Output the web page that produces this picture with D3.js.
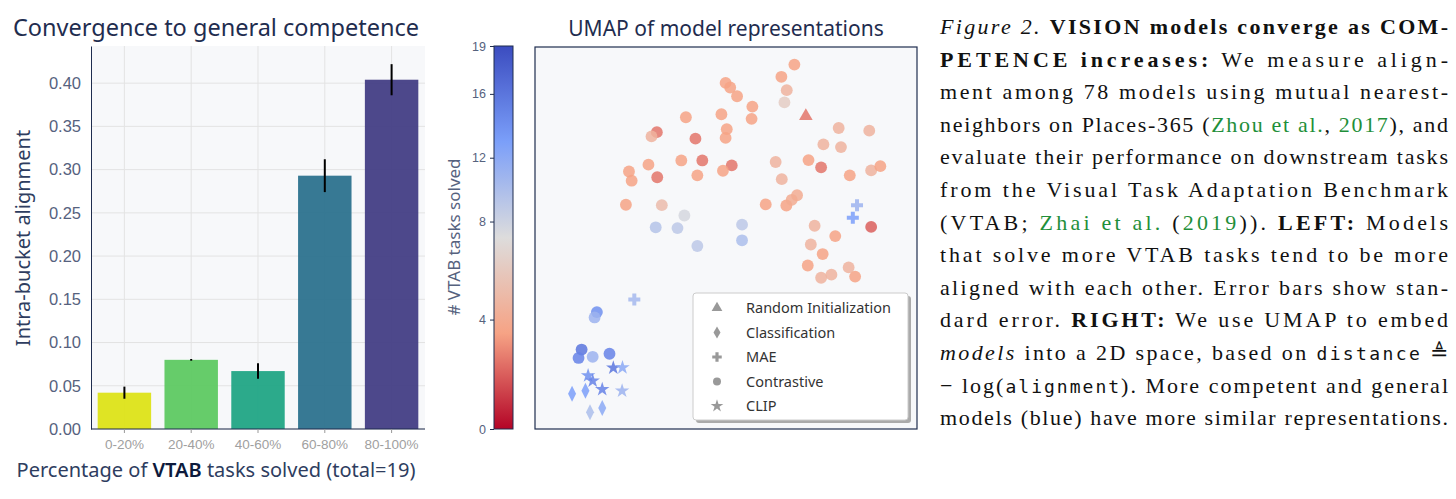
<!DOCTYPE html>
<meta charset="utf-8">
<script src="https://d3js.org/d3.v7.min.js"></script>
<style>body{margin:0;background:#fff}</style>
<div id="chart"></div>
<script>
// left panel data
var buckets = ["0-20%", "20-40%", "40-60%", "60-80%", "80-100%"];
var alignment = [0.042, 0.080, 0.067, 0.293, 0.404];
var stderr = [0.007, 0.001, 0.009, 0.019, 0.018];
var barColors = ["#dde318", "#5ec962", "#21a585", "#2c728e", "#433e85"];
var yTicks = [0, 0.05, 0.10, 0.15, 0.20, 0.25, 0.30, 0.35, 0.40];

// right panel data: UMAP coords, marker type, # tasks solved
var umapX = [6.79,6.45,6.59,6.53,4.99,5.11,5.29,5.69,5.67,4.88,5.02,4.99,3.95,3.19,3.05,4.20,3.83,4.38,5.15,4.92,4.25,2.97,2.46,2.53,3.20,2.38,3.32,3.16,3.73,4.25,3.91,5.42,5.42,6.04,6.58,6.72,6.86,6.30,6.46,7.16,7.49,7.55,7.95,8.01,8.75,8.24,8.80,9.04,7.32,7.86,8.80,7.22,7.53,7.14,7.49,7.76,8.21,8.38,1.62,1.56,1.22,1.14,1.51,1.95,
  7.09, 8.43,8.32,2.60, 2.05,2.29,1.39,1.51,1.76,2.28, 0.97,1.32,1.44,1.76];
var umapY = [9.54,9.22,8.87,8.55,9.06,8.94,8.71,8.44,8.12,8.24,7.85,7.62,8.16,7.77,7.66,7.60,7.03,7.03,6.90,6.76,6.64,6.92,6.74,6.50,6.59,5.87,5.86,5.28,5.26,4.79,5.59,5.35,4.94,5.88,5.85,6.00,6.12,6.99,6.54,7.04,6.85,7.45,7.88,7.38,7.81,6.64,6.77,6.88,5.32,5.05,5.29,4.83,4.58,4.28,3.96,4.04,4.23,3.99,3.06,2.92,2.08,1.86,1.89,1.97,
  8.19, 5.86,5.53,3.39, 1.60,1.61,1.40,1.26,1.04,1.00, 0.92,1.00,0.44,0.55];
var markerType = Array(64).fill("Contrastive").concat(["Random Initialization","MAE","MAE","MAE","CLIP","CLIP","CLIP","CLIP","CLIP","CLIP","Classification","Classification","Classification","Classification"]);
var tasksSolved = [3.5,3.5,4.5,6,3.5,3.5,3.5,3.5,3.5,3.5,3.5,3.5,3.5,2.5,4.5,2.5,3.5,2.5,2.5,3.5,3.5,3.5,3.5,3.5,2.5,3.5,5,9.5,9,9,7.5,9,10,3.5,3.5,4,4,4.5,4.5,3.5,2.5,4.5,4.5,4.5,4.5,3.5,4.5,3.5,4.5,3.5,2,4.5,3.5,3.5,4.5,4.5,4.5,3.5,14,11,16,15,11,15,
  2.5, 11,13,10.5, 16,12,14,15,15,11, 13,13,10,12];
var legendTypes = ["Random Initialization","Classification","MAE","Contrastive","CLIP"];
var cbTicks = [0, 4, 8, 12, 16, 19];

var W = 1456, H = 499;
var svg = d3.select("#chart").append("svg").attr("width", W).attr("height", H)
  .style("font-family", "'Noto Sans', Lato, sans-serif");
var navy = "#1f2d4f", tickGrey = "#56627e";

// ---------- LEFT: bar chart ----------
var L = {left: 91, right: 425, top: 46, bottom: 429};
var x = d3.scaleBand().domain(buckets).range([L.left, L.right]).paddingInner(0.2).paddingOuter(0.1);
var y = d3.scaleLinear().domain([0, 0.443]).range([L.bottom, L.top]);

svg.append("rect").attr("x", L.left).attr("y", L.top).attr("width", L.right - L.left)
  .attr("height", L.bottom - L.top).attr("fill", "#f7f8fa");
svg.append("g").selectAll("line").data(yTicks).enter().append("line")
  .attr("x1", L.left).attr("x2", L.right).attr("y1", d => y(d)).attr("y2", d => y(d))
  .attr("stroke", "#e3e3e3");
svg.append("g").selectAll("line").data(buckets).enter().append("line")
  .attr("x1", d => x(d) + x.bandwidth() / 2).attr("x2", d => x(d) + x.bandwidth() / 2)
  .attr("y1", L.top).attr("y2", L.bottom).attr("stroke", "#e3e3e3");

svg.append("g").selectAll("rect").data(buckets).enter().append("rect")
  .attr("x", d => x(d)).attr("width", x.bandwidth())
  .attr("y", (d, i) => y(alignment[i])).attr("height", (d, i) => y(0) - y(alignment[i]))
  .attr("fill", (d, i) => barColors[i]).attr("fill-opacity", 0.95);
svg.append("g").selectAll("line").data(buckets).enter().append("line")
  .attr("x1", d => x(d) + x.bandwidth() / 2).attr("x2", d => x(d) + x.bandwidth() / 2)
  .attr("y1", (d, i) => y(alignment[i] - stderr[i])).attr("y2", (d, i) => y(alignment[i] + stderr[i]))
  .attr("stroke", "#000").attr("stroke-width", 2);

var yAx = svg.append("g").attr("transform", "translate(" + L.left + ",0)")
  .call(d3.axisLeft(y).tickValues(yTicks).tickFormat(d3.format(".2f")).tickSize(0).tickPadding(10));
yAx.select(".domain").attr("stroke", navy);
yAx.selectAll("text").attr("fill", tickGrey).style("font-size", "16.5px");
var xAx = svg.append("g").attr("transform", "translate(0," + L.bottom + ")")
  .call(d3.axisBottom(x).tickSize(4).tickPadding(6));
xAx.select(".domain").attr("stroke", navy).attr("d", "M" + L.left + ",0H" + L.right);
xAx.selectAll("line").attr("stroke", "#999");
xAx.selectAll("text").attr("fill", "#a0a0a0").style("font-size", "13.5px");

svg.append("text").attr("x", 216).attr("y", 36).attr("text-anchor", "middle")
  .attr("fill", navy).style("font-size", "23.5px").text("Convergence to general competence");
svg.append("text").attr("transform", "translate(30," + 238 + ") rotate(-90)").attr("text-anchor", "middle")
  .attr("fill", "#2e3d60").style("font-size", "20px").text("Intra-bucket alignment");
var xl = svg.append("text").attr("x", 216).attr("y", 477).attr("text-anchor", "middle")
  .attr("fill", "#2e3d60").style("font-size", "20px");
xl.append("tspan").text("Percentage of ");
xl.append("tspan").attr("fill", "#0d1a3c").attr("font-weight", "600").text("VTAB");
xl.append("tspan").text(" tasks solved (total=19)");

// ---------- RIGHT: colorbar + UMAP ----------
var cbY = d3.scaleLinear().domain([0, 7, 19]).range([429, 237.5, 46]);
var coolwarm = d3.scaleLinear().domain([0, 0.25, 0.5, 0.75, 1])
  .range(["#b40426", "#f6a385", "#dddcdc", "#7b9ff9", "#3b4cc0"]).interpolate(d3.interpolateRgb);
var tNorm = d3.scaleLinear().domain([0, 7, 19]).range([0, 0.5, 1]).clamp(true);
var color = v => coolwarm(tNorm(v));

var defs = svg.append("defs");
var grad = defs.append("linearGradient").attr("id", "cb").attr("x1", 0).attr("y1", 1).attr("x2", 0).attr("y2", 0);
d3.range(0, 1.01, 0.05).forEach(t => grad.append("stop").attr("offset", t).attr("stop-color", coolwarm(t)));
svg.append("rect").attr("x", 494).attr("y", 46).attr("width", 19).attr("height", 383)
  .attr("fill", "url(#cb)").attr("stroke", navy).attr("stroke-width", 1);
var cbAx = svg.append("g").attr("transform", "translate(494,0)")
  .call(d3.axisLeft(cbY).tickValues(cbTicks).tickSize(4).tickPadding(4));
cbAx.select(".domain").remove();
cbAx.selectAll("line").attr("stroke", navy);
cbAx.selectAll("text").attr("fill", tickGrey).style("font-size", "12.5px");
svg.append("text").attr("transform", "translate(460,237) rotate(-90)").attr("text-anchor", "middle")
  .attr("fill", tickGrey).style("font-size", "17px").text("# VTAB tasks solved");

var P = {left: 535, right: 917, top: 47, bottom: 429};
var ux = d3.scaleLinear().domain([0, 10]).range([P.left, P.right]);
var uy = d3.scaleLinear().domain([0, 10]).range([P.bottom, P.top]);
svg.append("rect").attr("x", P.left).attr("y", P.top).attr("width", P.right - P.left)
  .attr("height", P.bottom - P.top).attr("fill", "#f7f8fa").attr("stroke", navy).attr("stroke-width", 1.2);
svg.append("text").attr("x", 726).attr("y", 36).attr("text-anchor", "middle")
  .attr("fill", navy).style("font-size", "21px").text("UMAP of model representations");

var symbolOf = {"Random Initialization": d3.symbolTriangle, "Classification": "diamond",
  "MAE": d3.symbolCross, "Contrastive": d3.symbolCircle, "CLIP": d3.symbolStar};
var sizeOf = {"Random Initialization": 80, "Classification": 0, "MAE": 80, "Contrastive": 110, "CLIP": 65};
function markerPath(t, s) {
  if (t === "Classification") return "M0,-8L4,0L0,8L-4,0Z";
  return d3.symbol().type(symbolOf[t]).size(s || sizeOf[t])();
}
svg.append("g").selectAll("path").data(umapX).enter().append("path")
  .attr("transform", (d, i) => "translate(" + ux(umapX[i]) + "," + uy(umapY[i]) + ")")
  .attr("d", (d, i) => markerPath(markerType[i]))
  .attr("fill", (d, i) => color(tasksSolved[i])).attr("fill-opacity", 0.85);

// legend
var lg = svg.append("g").attr("transform", "translate(693,293)");
lg.append("rect").attr("x", 3).attr("y", 3).attr("width", 215).attr("height", 127).attr("rx", 3).attr("fill", "#aaa");
lg.append("rect").attr("width", 215).attr("height", 127).attr("rx", 3).attr("fill", "#fff").attr("stroke", "#ccc");
legendTypes.forEach(function(t, i) {
  var yy = 15 + i * 24.5;
  lg.append("path").attr("transform", "translate(24," + yy + ")")
    .attr("d", t === "Classification" ? "M0,-6L3.5,0L0,6L-3.5,0Z" : markerPath(t, 50)).attr("fill", "#999");
  lg.append("text").attr("x", 53).attr("y", yy + 5).attr("fill", "#333").style("font-size", "14.5px").text(t);
});

// ---------- caption ----------
var green = "#1f8f3a";
var caption = [
  [["Figure 2. ", "i"], ["VISION models converge as COM-", "b"]],
  [["PETENCE increases:", "b"], ["  We measure align-", ""]],
  [["ment among 78 models using mutual nearest-", ""]],
  [["neighbors on Places-365 (", ""], ["Zhou et al.", "g"], [", ", ""], ["2017", "g"], ["), and", ""]],
  [["evaluate their performance on downstream tasks", ""]],
  [["from the Visual Task Adaptation Benchmark", ""]],
  [["(VTAB; ", ""], ["Zhai et al.", "g"], [" (", ""], ["2019", "g"], [")).   ", ""], ["LEFT:", "b"], [" Models", ""]],
  [["that solve more VTAB tasks tend to be more", ""]],
  [["aligned with each other. Error bars show stan-", ""]],
  [["dard error. ", ""], ["RIGHT:", "b"], [" We use UMAP to embed", ""]],
  [["models", "i"], [" into a 2D space, based on ", ""], ["distance", "m"], [" \u225C", ""]],
  [["\u2212 log(", ""], ["alignment", "m"], ["). More competent and general", ""]],
  [["models (blue) have more similar representations.", ""]]
];
var cap = svg.append("g").style("font-family", "'Liberation Serif', 'Times New Roman', serif").style("font-size", "22px");
caption.forEach(function(line, i) {
  var t = cap.append("text").attr("x", 940).attr("y", 34 + i * 32.6).attr("fill", "#111")
    .attr("textLength", 508).attr("lengthAdjust", "spacing");
  line.forEach(function(s) {
    var sp = t.append("tspan").text(s[0]);
    if (s[1] === "b") sp.attr("font-weight", "bold");
    if (s[1] === "i") sp.attr("font-style", "italic");
    if (s[1] === "g") sp.attr("fill", green);
    if (s[1] === "m") sp.style("font-family", "'DejaVu Sans Mono', monospace").style("font-size", "18px");
  });
});
</script>
